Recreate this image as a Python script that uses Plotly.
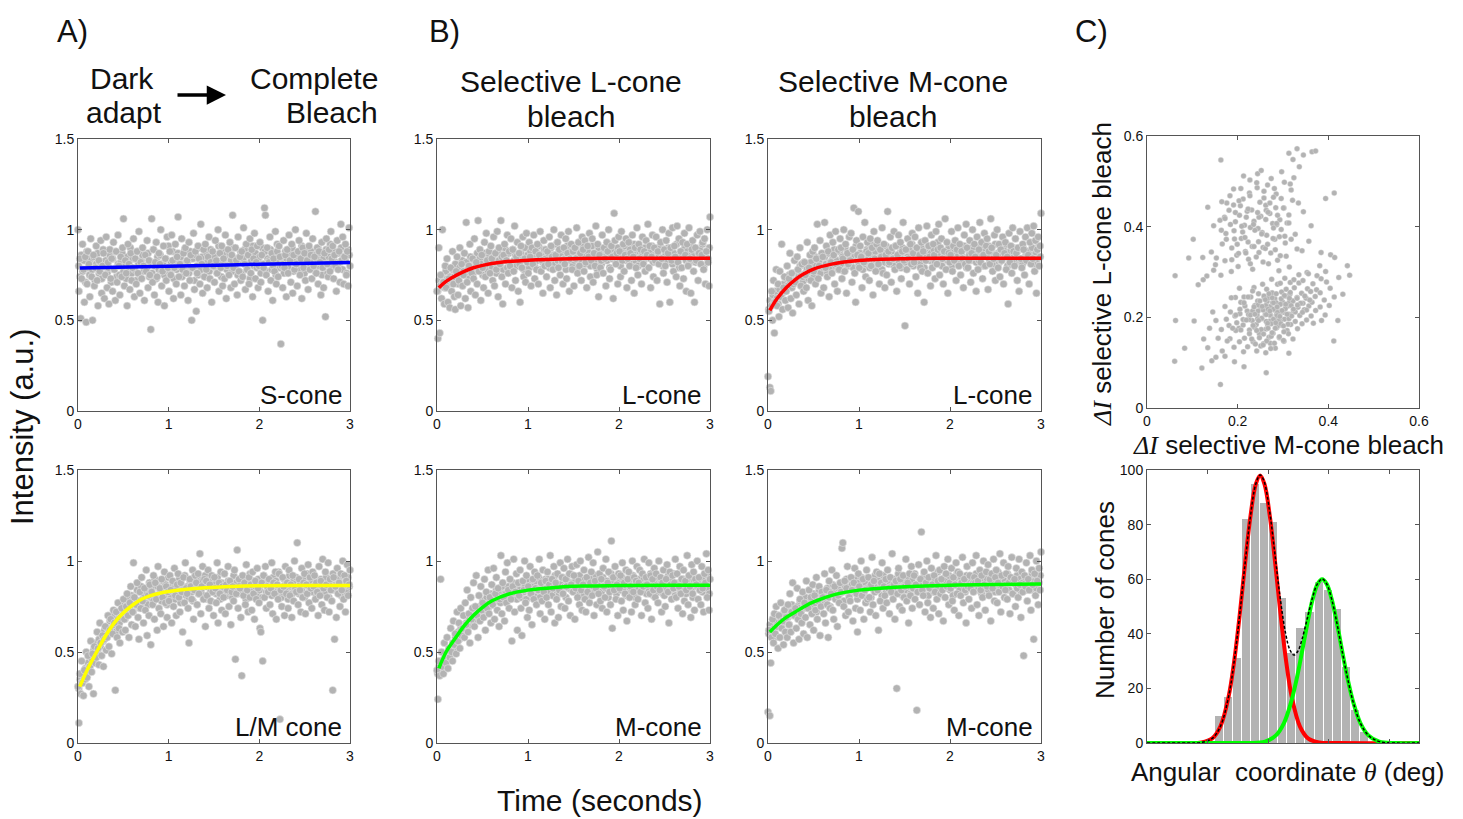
import numpy as np
import plotly.graph_objects as go

W, H = 1463, 819
FONT = "Liberation Sans"
INK = "#111111"
AXC = "#555555"
DOT = "#b3b3b3"

# ---------------- data ----------------
# acquisition times (s) of the frames in each trace (two interleaved frame sets)
frame_times = np.linspace(0, 3, 300)
frame_times_b = np.linspace(0.0075, 2.9925, 200)

# intensities (a.u., in hundredths); *_b = second frame set
s_cone_centi = [
    100, 66, 84, 51, 73, 92, 78, 60, 85, 49, 70, 88, 81, 63, 95, 74, 50, 86, 69, 79,
    91, 72, 58, 83, 77, 94, 65, 80, 87, 62, 75, 96, 68, 82, 59, 89, 73, 84, 66, 93,
    78, 61, 88, 71, 97, 80, 64, 85, 74, 90, 106, 69, 83, 76, 58, 92, 81, 67, 87, 72,
    79, 95, 63, 84, 70, 88, 76, 99, 65, 82, 73, 90, 80, 61, 86, 77, 94, 68, 83, 75,
    45, 106, 71, 89, 64, 82, 93, 74, 60, 87, 81, 100, 69, 77, 91, 58, 84, 72, 96, 79,
    66, 88, 75, 97, 83, 62, 79, 92, 70, 85, 107, 74, 81, 64, 95, 78, 87, 69, 90, 76,
    83, 61, 93, 72, 86, 50, 79, 98, 67, 88, 55, 76, 91, 84, 70, 103, 81, 65, 89, 74,
    92, 78, 68, 85, 96, 73, 82, 60, 88, 80, 71, 94, 83, 76, 100, 66, 87, 79, 91, 69,
    84, 73, 97, 62, 80, 89, 75, 93, 68, 86, 108, 79, 70, 90, 83, 64, 96, 77, 85, 72,
    88, 74, 101, 81, 67, 92, 78, 86, 70, 95, 76, 89, 63, 84, 98, 73, 82, 91, 68, 80,
    93, 71, 86, 50, 79, 112, 108, 75, 90, 66, 82, 96, 72, 87, 61, 84, 77, 99, 70, 88,
    74, 91, 85, 37, 80, 68, 94, 79, 86, 63, 89, 76, 97, 83, 71, 92, 65, 86, 78, 100,
    81, 69, 88, 94, 75, 84, 62, 90, 79, 87, 72, 98, 83, 67, 91, 78, 86, 73, 95, 80,
    85, 110, 76, 90, 70, 88, 82, 64, 93, 79, 68, 87, 52, 95, 81, 74, 89, 77, 99, 84,
    91, 73, 86, 80, 66, 94, 78, 88, 71, 103, 83, 96, 70, 85, 92, 75, 88, 69, 101, 80,
]
s_cone_centi_b = [
    80, 74, 86, 77, 83, 71, 88, 79, 75, 84, 78, 85, 72, 81, 87, 76, 82, 73, 89, 80,
    83, 76, 79, 86, 71, 84, 78, 88, 74, 81, 75, 82, 87, 77, 80, 73, 85, 79, 90, 76,
    84, 78, 72, 88, 81, 75, 83, 86, 77, 80, 79, 87, 74, 82, 76, 89, 80, 73, 85, 78,
    86, 77, 81, 75, 84, 79, 91, 76, 82, 88, 73, 83, 78, 87, 80, 85, 74, 81, 89, 77,
    82, 76, 88, 79, 84, 72, 86, 80, 75, 90, 78, 85, 81, 74, 87, 83, 77, 89, 80, 84,
    85, 79, 76, 91, 82, 74, 88, 81, 86, 78, 80, 87, 83, 77, 90, 79, 84, 75, 82, 88,
    76, 84, 89, 81, 78, 86, 73, 83, 91, 80, 87, 79, 82, 85, 76, 90, 81, 88, 77, 84,
    83, 89, 78, 80, 86, 75, 92, 82, 79, 85, 81, 76, 88, 84, 79, 87, 83, 90, 77, 82,
    86, 80, 85, 78, 91, 82, 76, 89, 84, 81, 79, 88, 83, 86, 77, 84, 90, 80, 87, 75,
    84, 81, 89, 76, 85, 92, 79, 83, 88, 82, 80, 87, 82, 90, 78, 85, 83, 76, 89, 86,
]
lm_cone_centi = [
    31, 11, 38, 27, 45, 33, 26, 40, 35, 50, 36, 48, 31, 42, 56, 39, 49, 27, 53, 44,
    47, 61, 52, 43, 66, 55, 48, 59, 42, 57, 64, 51, 58, 70, 53, 62, 68, 49, 60, 73,
    66, 29, 72, 58, 77, 63, 55, 69, 74, 61, 79, 68, 62, 75, 82, 70, 58, 77, 86, 65,
    72, 99, 80, 64, 76, 88, 69, 57, 83, 74, 91, 78, 66, 85, 73, 95, 59, 81, 70, 87,
    54, 83, 76, 92, 68, 88, 79, 62, 97, 74, 85, 71, 90, 80, 64, 94, 77, 86, 69, 83,
    78, 92, 84, 66, 89, 75, 96, 81, 70, 87, 93, 80, 72, 88, 83, 61, 91, 77, 99, 85,
    82, 74, 55, 90, 86, 79, 95, 68, 84, 92, 88, 76, 93, 82, 104, 71, 86, 97, 79, 90,
    64, 89, 81, 95, 74, 87, 78, 92, 83, 70, 91, 85, 77, 99, 66, 88, 82, 94, 73, 86,
    80, 93, 71, 87, 84, 97, 75, 89, 65, 83, 86, 78, 95, 46, 82, 106, 74, 90, 85, 69,
    37, 92, 81, 88, 76, 98, 84, 72, 91, 80, 87, 73, 94, 82, 68, 89, 79, 96, 85, 77,
    63, 61, 88, 45, 92, 80, 97, 74, 86, 83, 90, 76, 85, 99, 71, 88, 82, 94, 68, 87,
    79, 93, 13, 84, 75, 91, 86, 70, 97, 82, 88, 74, 95, 81, 87, 69, 92, 78, 100, 85,
    83, 110, 76, 90, 84, 72, 96, 80, 88, 93, 71, 87, 82, 98, 77, 91, 85, 74, 94, 86,
    92, 79, 88, 83, 70, 97, 81, 89, 76, 101, 85, 73, 94, 87, 80, 99, 72, 90, 84, 78,
    29, 91, 57, 86, 69, 96, 82, 88, 75, 93, 84, 100, 79, 92, 72, 89, 98, 81, 87, 95,
]
lm_cone_centi_b = [
    30, 35, 33, 38, 36, 41, 39, 44, 42, 47, 46, 51, 48, 55, 50, 57, 53, 60, 56, 62,
    58, 63, 60, 67, 62, 70, 65, 61, 72, 68, 66, 73, 70, 77, 68, 75, 79, 71, 74, 81,
    72, 80, 76, 84, 78, 74, 86, 79, 82, 77, 83, 76, 88, 80, 85, 78, 90, 81, 86, 79,
    84, 78, 89, 81, 87, 76, 91, 83, 80, 86, 85, 79, 88, 82, 90, 77, 86, 84, 92, 81,
    86, 80, 89, 83, 78, 91, 85, 87, 82, 90, 84, 89, 81, 92, 86, 79, 88, 83, 90, 85,
    87, 82, 91, 85, 79, 88, 84, 93, 86, 81, 89, 83, 86, 80, 92, 85, 88, 82, 90, 87,
    84, 91, 86, 79, 88, 83, 93, 85, 81, 89, 86, 82, 90, 84, 87, 80, 92, 88, 83, 85,
    88, 84, 81, 91, 86, 89, 83, 94, 85, 80, 83, 90, 87, 85, 79, 92, 86, 82, 89, 84,
    91, 85, 82, 88, 84, 90, 80, 87, 93, 86, 85, 89, 83, 92, 87, 81, 88, 84, 90, 86,
    88, 82, 91, 86, 80, 89, 85, 93, 84, 87, 84, 90, 87, 81, 92, 85, 88, 83, 91, 86,
]
lbleach_l_centi = [
    66, 40, 90, 43, 75, 62, 100, 71, 59, 80, 68, 84, 60, 73, 57, 79, 66, 88, 70, 63,
    56, 77, 85, 64, 72, 90, 58, 81, 69, 75, 87, 62, 104, 71, 57, 80, 92, 66, 76, 84,
    73, 95, 64, 82, 70, 105, 77, 89, 61, 86, 79, 68, 93, 74, 98, 83, 65, 88, 76, 91,
    84, 72, 96, 69, 87, 78, 99, 63, 90, 81, 105, 74, 59, 86, 92, 70, 83, 97, 76, 88,
    80, 95, 68, 89, 77, 102, 72, 85, 93, 66, 87, 60, 91, 79, 96, 74, 84, 71, 98, 82,
    76, 93, 85, 69, 90, 81, 97, 73, 88, 78, 92, 70, 86, 99, 77, 83, 65, 94, 80, 89,
    74, 88, 81, 96, 68, 91, 85, 78, 100, 72, 86, 64, 93, 79, 89, 75, 97, 83, 70, 90,
    81, 95, 73, 87, 99, 66, 84, 92, 78, 88, 69, 90, 84, 101, 76, 93, 80, 87, 72, 96,
    89, 77, 94, 82, 68, 91, 85, 98, 74, 83, 95, 71, 87, 80, 102, 75, 92, 63, 86, 79,
    83, 97, 76, 90, 84, 69, 93, 88, 100, 73, 78, 91, 85, 62, 109, 94, 81, 87, 70, 96,
    88, 74, 99, 83, 92, 77, 86, 95, 68, 84, 93, 80, 87, 72, 97, 85, 65, 90, 79, 101,
    75, 92, 84, 89, 70, 96, 81, 88, 77, 94, 86, 103, 79, 91, 68, 85, 97, 74, 90, 83,
    96, 72, 88, 81, 59, 93, 84, 100, 76, 89, 80, 94, 71, 87, 98, 60, 90, 83, 101, 77,
    91, 85, 74, 102, 82, 95, 69, 88, 79, 93, 73, 98, 86, 66, 92, 80, 101, 84, 65, 89,
    94, 77, 60, 90, 83, 97, 72, 87, 99, 81, 86, 93, 78, 95, 70, 88, 100, 82, 69, 107,
]
lbleach_l_centi_b = [
    66, 72, 69, 75, 71, 68, 77, 73, 70, 74, 72, 78, 74, 81, 76, 70, 79, 75, 83, 77,
    75, 82, 78, 73, 85, 79, 76, 83, 80, 87, 78, 84, 81, 75, 87, 80, 83, 77, 86, 82,
    79, 86, 82, 76, 88, 83, 80, 85, 78, 90, 84, 79, 87, 81, 77, 89, 83, 86, 80, 85,
    81, 87, 84, 78, 90, 83, 86, 79, 88, 82, 85, 80, 88, 83, 91, 78, 86, 82, 89, 84,
    82, 87, 79, 90, 84, 86, 81, 92, 83, 88, 86, 81, 89, 84, 78, 91, 85, 83, 88, 80,
    83, 90, 85, 79, 87, 82, 92, 86, 81, 89, 88, 84, 80, 91, 85, 83, 87, 78, 90, 84,
    81, 87, 85, 89, 83, 92, 79, 86, 84, 88, 86, 82, 90, 84, 80, 88, 85, 91, 83, 87,
    84, 89, 81, 86, 92, 83, 87, 80, 88, 85, 87, 83, 90, 85, 79, 88, 84, 91, 82, 86,
    82, 88, 85, 91, 84, 80, 89, 86, 83, 90, 89, 84, 81, 87, 83, 92, 85, 79, 88, 86,
    85, 90, 83, 88, 81, 86, 91, 84, 87, 82, 83, 87, 89, 85, 92, 80, 86, 88, 84, 90,
]
mbleach_l_centi = [
    19, 55, 13, 11, 66, 50, 72, 43, 60, 78, 58, 70, 52, 77, 63, 92, 56, 68, 74, 61,
    66, 80, 57, 73, 87, 62, 76, 54, 70, 83, 71, 64, 85, 78, 59, 90, 69, 81, 74, 66,
    82, 75, 68, 93, 61, 79, 86, 72, 58, 88, 77, 90, 70, 84, 103, 73, 80, 94, 65, 87,
    85, 68, 104, 79, 91, 74, 88, 63, 97, 82, 76, 93, 86, 70, 99, 81, 66, 89, 78, 95,
    90, 73, 84, 100, 77, 92, 65, 87, 81, 96, 83, 98, 71, 89, 112, 76, 60, 94, 86, 110,
    79, 91, 85, 68, 96, 82, 104, 74, 88, 93, 87, 72, 95, 80, 90, 64, 99, 84, 77, 92,
    94, 81, 70, 89, 85, 101, 76, 92, 68, 86, 75, 110, 88, 82, 96, 71, 90, 84, 99, 78,
    91, 66, 86, 97, 80, 93, 73, 88, 104, 83, 47, 89, 78, 95, 84, 70, 92, 81, 98, 87,
    82, 96, 74, 90, 65, 101, 86, 79, 93, 77, 88, 60, 94, 83, 102, 76, 91, 85, 69, 97,
    79, 92, 86, 73, 99, 81, 89, 103, 75, 90, 95, 84, 70, 88, 106, 78, 93, 65, 87, 82,
    86, 99, 77, 91, 83, 94, 72, 89, 101, 80, 92, 75, 88, 84, 68, 97, 81, 103, 90, 79,
    83, 94, 71, 87, 100, 76, 92, 85, 66, 96, 78, 89, 104, 82, 93, 73, 86, 98, 80, 91,
    95, 67, 88, 81, 106, 90, 77, 84, 97, 72, 86, 100, 79, 92, 74, 89, 83, 96, 70, 87,
    93, 78, 85, 59, 98, 82, 91, 76, 101, 88, 80, 95, 87, 72, 90, 66, 99, 84, 79, 92,
    89, 75, 96, 83, 101, 86, 70, 93, 81, 98, 84, 102, 77, 94, 65, 89, 96, 80, 91, 109,
]
mbleach_l_centi_b = [
    56, 61, 58, 64, 60, 66, 62, 59, 67, 63, 65, 70, 67, 73, 69, 75, 71, 68, 76, 72,
    72, 77, 74, 80, 75, 71, 82, 76, 79, 73, 77, 82, 79, 74, 85, 80, 78, 83, 76, 86,
    79, 85, 81, 76, 87, 82, 78, 84, 89, 80, 83, 78, 88, 81, 85, 77, 90, 84, 80, 86,
    82, 88, 79, 85, 91, 83, 80, 87, 84, 78, 86, 81, 89, 84, 79, 92, 85, 83, 88, 80,
    83, 90, 85, 78, 87, 82, 91, 86, 81, 89, 88, 84, 80, 91, 85, 83, 87, 79, 90, 84,
    82, 87, 85, 89, 83, 92, 80, 86, 84, 88, 85, 81, 90, 84, 79, 88, 86, 91, 83, 87,
    84, 89, 82, 86, 93, 83, 87, 80, 88, 85, 87, 83, 90, 85, 80, 88, 84, 92, 82, 86,
    81, 88, 85, 91, 84, 79, 89, 86, 83, 90, 89, 84, 82, 87, 83, 91, 85, 80, 88, 86,
    85, 91, 83, 88, 81, 86, 92, 84, 87, 82, 83, 87, 89, 85, 92, 80, 86, 88, 84, 90,
    86, 82, 88, 84, 90, 83, 81, 89, 85, 87, 88, 85, 83, 90, 86, 81, 87, 84, 91, 85,
]
lbleach_m_centi = [
    40, 24, 45, 37, 90, 50, 42, 38, 55, 47, 44, 58, 41, 52, 47, 63, 50, 45, 67, 54,
    60, 49, 72, 56, 66, 52, 74, 59, 63, 70, 58, 77, 65, 84, 61, 71, 55, 80, 68, 74,
    88, 64, 75, 92, 70, 58, 81, 67, 86, 73, 77, 69, 90, 62, 83, 74, 95, 71, 80, 66,
    87, 76, 96, 68, 82, 91, 73, 85, 64, 79, 103, 71, 88, 80, 67, 94, 77, 99, 84, 74,
    90, 79, 56, 86, 101, 72, 83, 93, 62, 88, 81, 95, 74, 59, 89, 84, 100, 77, 92, 69,
    86, 73, 97, 82, 65, 90, 79, 94, 85, 76, 92, 84, 101, 71, 88, 78, 95, 83, 68, 89,
    80, 94, 76, 87, 103, 72, 90, 85, 97, 66, 88, 79, 93, 69, 84, 99, 75, 91, 82, 96,
    74, 90, 86, 101, 78, 93, 70, 87, 97, 83, 92, 68, 85, 98, 80, 89, 76, 100, 84, 73,
    87, 95, 79, 72, 91, 83, 102, 77, 88, 94, 81, 99, 70, 89, 85, 76, 105, 82, 93, 78,
    90, 74, 96, 86, 80, 101, 72, 88, 94, 83, 76, 111, 63, 91, 84, 97, 79, 87, 70, 93,
    85, 92, 78, 99, 73, 88, 82, 95, 67, 90, 94, 80, 86, 72, 100, 83, 91, 76, 89, 97,
    79, 88, 95, 83, 70, 93, 86, 101, 77, 91, 87, 74, 99, 82, 92, 68, 90, 84, 96, 80,
    93, 86, 77, 100, 84, 91, 72, 88, 95, 81, 75, 90, 98, 83, 66, 94, 87, 79, 92, 85,
    88, 101, 80, 93, 74, 86, 97, 82, 90, 71, 95, 78, 89, 84, 103, 76, 92, 86, 69, 98,
    82, 94, 73, 90, 87, 100, 79, 91, 84, 76, 97, 85, 72, 93, 88, 104, 80, 95, 73, 90,
]
lbleach_m_centi_b = [
    38, 42, 40, 45, 41, 47, 43, 49, 46, 51, 50, 55, 52, 58, 54, 61, 57, 63, 59, 65,
    62, 66, 64, 69, 65, 72, 67, 70, 74, 68, 70, 75, 72, 78, 73, 76, 80, 74, 77, 82,
    76, 81, 78, 84, 79, 83, 77, 86, 80, 82, 82, 78, 86, 80, 84, 88, 81, 85, 79, 87,
    84, 80, 88, 83, 86, 79, 90, 85, 82, 87, 86, 82, 89, 84, 91, 80, 87, 85, 83, 90,
    85, 90, 83, 88, 81, 86, 92, 84, 87, 82, 87, 83, 91, 86, 80, 89, 85, 93, 84, 88,
    84, 89, 86, 82, 92, 85, 88, 81, 90, 87, 88, 85, 81, 90, 86, 83, 92, 87, 84, 89,
    83, 91, 87, 85, 89, 80, 86, 93, 84, 88, 86, 82, 90, 88, 84, 91, 85, 87, 81, 89,
    89, 85, 83, 92, 86, 80, 88, 84, 90, 87, 85, 90, 87, 82, 89, 84, 93, 86, 81, 88,
    87, 83, 91, 85, 88, 82, 86, 90, 84, 92, 84, 89, 86, 93, 81, 87, 85, 88, 83, 90,
    90, 85, 82, 88, 86, 91, 84, 80, 89, 87, 86, 88, 84, 91, 83, 87, 90, 85, 92, 82,
]
mbleach_m_centi = [
    17, 62, 15, 44, 58, 68, 55, 71, 60, 75, 64, 52, 70, 58, 77, 63, 67, 54, 73, 61,
    69, 58, 76, 65, 82, 61, 72, 88, 55, 70, 74, 63, 85, 68, 57, 79, 71, 66, 83, 60,
    77, 69, 89, 58, 74, 84, 65, 80, 71, 87, 62, 81, 73, 91, 68, 78, 86, 59, 75, 83,
    80, 71, 93, 66, 84, 76, 58, 89, 74, 82, 95, 73, 68, 86, 79, 92, 64, 81, 77, 88,
    83, 107, 110, 75, 89, 70, 85, 97, 72, 80, 78, 91, 84, 67, 88, 96, 74, 82, 61, 93,
    86, 73, 100, 81, 90, 68, 84, 77, 95, 79, 91, 80, 72, 87, 102, 76, 89, 83, 70, 94,
    84, 62, 93, 78, 88, 99, 74, 86, 81, 90, 77, 95, 85, 71, 91, 83, 104, 79, 87, 68,
    89, 30, 82, 96, 75, 90, 84, 73, 92, 80, 86, 101, 78, 88, 66, 93, 81, 97, 74, 85,
    92, 79, 87, 18, 83, 98, 76, 90, 116, 84, 81, 94, 72, 88, 100, 77, 91, 85, 69, 96,
    87, 74, 92, 83, 103, 79, 89, 71, 95, 82, 90, 84, 67, 97, 80, 93, 86, 101, 76, 88,
    85, 96, 78, 91, 73, 87, 99, 82, 94, 70, 93, 81, 88, 102, 77, 90, 84, 66, 97, 86,
    79, 92, 85, 74, 99, 83, 91, 88, 103, 76, 89, 70, 95, 84, 92, 80, 100, 87, 73, 94,
    86, 98, 81, 90, 67, 93, 85, 101, 78, 91, 95, 77, 88, 83, 104, 72, 92, 86, 99, 80,
    84, 93, 79, 97, 88, 71, 91, 102, 82, 89, 90, 75, 96, 85, 80, 101, 87, 69, 94, 83,
    48, 92, 86, 99, 78, 90, 84, 103, 73, 95, 87, 57, 93, 81, 100, 89, 76, 96, 84, 105,
]
mbleach_m_centi_b = [
    60, 65, 62, 68, 63, 58, 66, 70, 64, 67, 66, 71, 68, 74, 69, 65, 72, 76, 70, 73,
    70, 75, 72, 78, 73, 69, 76, 80, 74, 77, 74, 79, 76, 82, 77, 72, 80, 84, 78, 81,
    77, 82, 79, 85, 80, 75, 83, 87, 81, 84, 80, 85, 82, 88, 83, 78, 86, 90, 84, 81,
    82, 87, 84, 90, 85, 79, 88, 83, 91, 86, 83, 88, 85, 91, 86, 80, 89, 84, 92, 87,
    84, 89, 86, 81, 92, 87, 83, 90, 85, 88, 86, 82, 90, 87, 84, 93, 85, 89, 81, 88,
    88, 84, 91, 86, 82, 89, 85, 93, 87, 83, 85, 90, 87, 83, 92, 86, 89, 81, 88, 91,
    87, 83, 90, 85, 94, 88, 82, 89, 86, 91, 89, 85, 92, 84, 88, 81, 90, 87, 93, 86,
    84, 91, 87, 89, 83, 92, 86, 88, 85, 90, 88, 86, 93, 84, 90, 87, 82, 91, 89, 85,
    90, 84, 88, 92, 86, 89, 83, 87, 94, 85, 86, 91, 85, 89, 87, 93, 84, 90, 88, 82,
    89, 87, 92, 85, 90, 83, 88, 86, 91, 84, 87, 90, 84, 93, 86, 89, 85, 91, 88, 92,
]

# exponential-recovery fits, sampled (time s, intensity a.u.)
s_fit_t = [0.02, 1.0, 2.0, 3.0]
s_fit_y = [0.788, 0.798, 0.809, 0.819]
lm_fit_t = [0.02, 0.1, 0.2, 0.3, 0.4, 0.5, 0.6, 0.7, 0.8, 0.9, 1.0, 1.2, 1.4, 1.7, 2.0, 2.5, 3.0]
lm_fit_y = [0.31, 0.40, 0.495, 0.585, 0.66, 0.715, 0.757, 0.79, 0.81, 0.823, 0.832, 0.845, 0.853, 0.86, 0.864, 0.866, 0.866]
lbleach_l_fit_t = [0.02, 0.1, 0.2, 0.3, 0.4, 0.5, 0.7, 1.0, 1.5, 2.0, 3.0]
lbleach_l_fit_y = [0.68, 0.715, 0.745, 0.77, 0.79, 0.803, 0.82, 0.832, 0.84, 0.842, 0.843]
mbleach_l_fit_t = [0.02, 0.1, 0.2, 0.3, 0.4, 0.5, 0.7, 1.0, 1.5, 2.0, 3.0]
mbleach_l_fit_y = [0.555, 0.62, 0.68, 0.725, 0.758, 0.783, 0.81, 0.83, 0.84, 0.842, 0.842]
lbleach_m_fit_t = [0.02, 0.1, 0.2, 0.3, 0.4, 0.5, 0.6, 0.8, 1.0, 1.3, 1.6, 2.0, 3.0]
lbleach_m_fit_y = [0.41, 0.50, 0.575, 0.645, 0.70, 0.745, 0.78, 0.82, 0.84, 0.855, 0.862, 0.866, 0.867]
mbleach_m_fit_t = [0.02, 0.1, 0.2, 0.3, 0.4, 0.5, 0.75, 1.0, 1.4, 2.0, 2.5, 3.0]
mbleach_m_fit_y = [0.61, 0.65, 0.69, 0.72, 0.75, 0.775, 0.818, 0.84, 0.856, 0.867, 0.871, 0.873]

# panel C top: Delta I (x1000) for selective M-cone bleach (x) and L-cone bleach (y)
c_dm_milli = [
    134, 147, 161, 176, 183, 195, 204, 212, 226, 231, 243, 258, 262, 271, 285, 293, 302, 316, 321, 334,
    142, 153, 166, 174, 187, 192, 208, 215, 223, 236, 245, 251, 264, 277, 282, 296, 305, 313, 327, 331,
    147, 151, 163, 172, 186, 198, 201, 217, 224, 233, 241, 256, 268, 273, 288, 291, 307, 314, 342, 353,
    213, 227, 244, 252, 266, 274, 281, 297, 303, 318, 206, 221, 238, 247, 263, 279, 284, 292, 254, 232,
    184, 171, 193, 216, 228, 202, 246, 261, 286, 309, 324, 336, 345, 357, 362, 123, 132, 165, 191, 278,
    172, 181, 194, 203, 207, 212, 215, 221, 226, 229, 232, 234, 238, 241, 243, 246, 248, 251, 253, 257,
    259, 261, 263, 265, 267, 269, 271, 272, 274, 276, 278, 281, 282, 284, 286, 288, 291, 293, 295, 297,
    299, 301, 303, 305, 307, 309, 311, 313, 315, 317, 321, 323, 325, 327, 331, 333, 335, 337, 341, 344,
    347, 351, 354, 357, 361, 364, 371, 374, 382, 391, 183, 192, 204, 213, 222, 242, 251, 262, 272, 283,
    292, 302, 312, 322, 332, 342, 352, 362, 372, 382, 164, 175, 184, 195, 204, 216, 224, 236, 244, 255,
    264, 275, 285, 294, 304, 316, 324, 335, 344, 356, 366, 375, 384, 396, 404, 413, 402, 393, 385, 367,
    266, 273, 287, 296, 256, 245, 237, 225, 268, 277, 286, 294, 306, 314, 252, 244, 233, 263, 279, 288,
    214, 205, 196, 186, 177, 166, 157, 152, 145, 138,
    62, 63, 61, 83, 92, 163, 364, 372, 345, 313, 413, 394, 442, 447, 432, 421, 412, 162, 263, 214,
    121, 104, 102, 134, 125, 143, 152, 331, 322, 384, 405, 414, 394, 381, 113, 124, 193, 172, 313, 423,
    245, 253, 262, 271, 279, 288, 296, 305, 313, 322, 234, 242, 257, 266, 274, 283, 291, 302, 311, 319,
    228, 236, 249, 258, 267, 276, 285, 294, 303, 316, 331, 339, 348, 352, 359, 327, 318, 309, 298, 287,
    226, 231, 239, 248, 256, 264, 273, 281, 292, 301, 212, 219, 207, 198, 189, 196, 205, 214, 223, 233,
    263, 271, 279, 287, 295, 306, 314, 323, 332, 343, 254, 246, 238, 267, 276, 284, 293, 301, 261, 269,
    164, 172, 181, 195, 203, 211, 219, 227, 235, 244, 253, 262, 271, 279, 288, 296, 304, 313, 236, 218,
    199, 187, 228, 247, 256, 266, 283, 294, 207, 242, 258, 223, 209, 191, 175, 249, 267, 286, 301, 318,
]
c_dl_milli = [
    443, 402, 414, 452, 468, 431, 425, 461, 474, 437, 486, 463, 447, 429, 472, 415, 441, 494, 458, 452,
    344, 331, 362, 385, 353, 391, 374, 403, 366, 412, 396, 423, 381, 407, 372, 394, 364, 426, 383, 351,
    304, 316, 293, 325, 301, 337, 312, 345, 328, 306, 333, 354, 318, 342, 326, 303, 335, 311, 347, 299,
    512, 503, 517, 524, 492, 506, 484, 521, 498, 481, 446, 434, 392, 421, 436, 465, 442, 378, 387, 356,
    405, 421, 373, 376, 398, 341, 367, 352, 404, 408, 508, 532, 433, 368, 402, 332, 291, 455, 483, 374,
    224, 182, 203, 176, 233, 195, 154, 214, 172, 245, 193, 146, 226, 184, 205, 252, 163, 221, 197, 142,
    243, 206, 174, 235, 213, 156, 192, 224, 186, 254, 165, 216, 241, 194, 177, 273, 202, 228, 183, 256,
    234, 211, 196, 247, 262, 171, 225, 207, 251, 184, 236, 214, 265, 191, 244, 222, 276, 204, 253, 231,
    217, 242, 263, 225, 257, 233, 246, 261, 254, 238, 153, 134, 146, 124, 135, 126, 137, 122, 143, 132,
    155, 147, 164, 152, 175, 186, 194, 203, 215, 223, 173, 196, 212, 244, 264, 225, 206, 266, 236, 273,
    262, 284, 232, 275, 286, 277, 283, 294, 281, 296, 274, 292, 285, 278, 264, 245, 226, 205, 193, 187,
    184, 204, 223, 213, 216, 227, 178, 195, 243, 232, 206, 192, 227, 234, 173, 197, 214, 191, 218, 181,
    245, 208, 171, 243, 148, 126, 154, 193, 212, 176,
    292, 193, 103, 132, 331, 547, 565, 567, 558, 562, 474, 462, 314, 293, 251, 193, 148, 52, 78, 91,
    88, 192, 372, 133, 152, 104, 112, 572, 548, 343, 338, 332, 301, 314, 272, 283, 102, 114, 121, 288,
    214, 198, 226, 205, 232, 211, 241, 219, 197, 236, 182, 171, 163, 187, 158, 176, 192, 168, 185, 203,
    205, 223, 236, 247, 218, 243, 252, 229, 248, 255, 242, 231, 247, 216, 238, 212, 226, 207, 215, 223,
    164, 152, 141, 155, 139, 148, 131, 143, 157, 149, 183, 194, 172, 188, 176, 205, 218, 232, 245, 258,
    206, 214, 196, 204, 186, 229, 242, 218, 227, 211, 224, 193, 207, 176, 166, 188, 202, 181, 239, 252,
    392, 418, 436, 411, 457, 388, 421, 468, 405, 431, 384, 416, 452, 397, 425, 462, 379, 408, 356, 342,
    361, 327, 318, 343, 322, 361, 349, 336, 484, 497, 478, 439, 401, 448, 372, 454, 432, 407, 441, 372,
]

# panel C bottom: histogram of angular coordinate (arbitrary 0-100 scale) and Gaussian fits
hist_bin_centers = [26.54, 29.86, 33.18, 36.50, 39.82, 43.14, 46.46, 49.78, 53.10,
                    56.42, 59.74, 63.06, 66.38, 69.70, 73.02, 76.34, 79.66]
hist_counts = [10, 17, 31, 82, 95, 88, 81, 53, 33, 42, 48, 59, 56, 49, 28, 12, 4]
red_fit_x = [0, 14, 20, 24, 27, 30, 32, 34, 36, 38, 40, 41.6, 43.2, 45.2, 47.2, 49.2,
             51.2, 53.2, 56.2, 59.2, 63.2, 70, 100]
red_fit_y = [0, 0, 0.2, 1.7, 6.1, 17.0, 29.6, 46.2, 65.2, 82.8, 94.8, 98, 94.8, 82.8,
             65.2, 46.2, 29.6, 17.0, 6.1, 1.7, 0.2, 0, 0]
green_fit_x = [0, 30, 37.4, 43.4, 47.4, 50.4, 52.9, 54.9, 56.9, 58.9, 60.9, 62.7, 64.4,
               66.1, 67.9, 69.9, 71.9, 73.9, 75.9, 78.4, 81.4, 85.4, 91.4, 100]
green_fit_y = [0, 0, 0, 0.5, 2.8, 7.4, 14.7, 22.9, 32.9, 43.5, 52.7, 58.2, 60,
               58.2, 52.7, 43.5, 32.9, 22.9, 14.7, 7.4, 2.8, 0.5, 0, 0]
sum_fit_x = [0, 15, 20, 24, 27, 30, 32, 34, 36, 38, 40, 41.6, 43, 45, 47, 49, 51, 52.5,
             54, 55.5, 57, 59, 61, 62.5, 64.4, 66, 68, 70, 72, 74, 76, 78.5, 81.5, 85.5, 91, 100]
sum_fit_y = [0, 0, 0.2, 1.7, 6.1, 17.0, 29.6, 46.2, 65.2, 82.8, 94.9, 98.2, 96.0, 85.4,
             69.4, 52.9, 39.9, 34.2, 32.2, 33.7, 38.0, 45.9, 53.7, 58.0, 60.1, 58.4, 52.3,
             43.0, 32.4, 22.5, 14.3, 7.2, 2.7, 0.5, 0, 0]

# ---------------- layout helpers ----------------
def fx(px):
    return px / W


def fy(py):
    return 1 - py / H


fig = go.Figure()

axis_common = dict(
    showline=True, mirror="ticks", linecolor=AXC, linewidth=1,
    ticks="inside", ticklen=4, tickcolor=AXC, tickwidth=1,
    showgrid=False, zeroline=False, automargin=False,
    tickfont=dict(family=FONT, size=14, color=INK),
)

panels = [
    # (axis id, x px range, y px range, values, values set b, fit t, fit y, fit colour, label)
    ("", (78, 350), (139, 411), s_cone_centi, s_cone_centi_b, s_fit_t, s_fit_y, "#0000ff", "S-cone"),
    ("2", (437, 710), (139, 411), lbleach_l_centi, lbleach_l_centi_b, lbleach_l_fit_t, lbleach_l_fit_y, "#ff0000", "L-cone"),
    ("3", (768, 1041), (139, 411), mbleach_l_centi, mbleach_l_centi_b, mbleach_l_fit_t, mbleach_l_fit_y, "#ff0000", "L-cone"),
    ("4", (78, 350), (470, 743), lm_cone_centi, lm_cone_centi_b, lm_fit_t, lm_fit_y, "#ffff00", "L/M cone"),
    ("5", (437, 710), (470, 743), lbleach_m_centi, lbleach_m_centi_b, lbleach_m_fit_t, lbleach_m_fit_y, "#00ff00", "M-cone"),
    ("6", (768, 1041), (470, 743), mbleach_m_centi, mbleach_m_centi_b, mbleach_m_fit_t, mbleach_m_fit_y, "#00ff00", "M-cone"),
]

annotations = []
dot_marker = dict(size=7.5, color=DOT, line=dict(width=0.6, color="rgba(232,232,232,0.9)"))
for aid, (x0, x1), (y0, y1), vals, vals_b, ft, fyv, col, label in panels:
    xa, ya = "x" + aid, "y" + aid
    fig.add_trace(go.Scatter(
        x=frame_times_b, y=np.array(vals_b) / 100.0, mode="markers", marker=dot_marker,
        xaxis=xa, yaxis=ya, hoverinfo="skip", cliponaxis=False,
    ))
    fig.add_trace(go.Scatter(
        x=frame_times, y=np.array(vals) / 100.0, mode="markers", marker=dot_marker,
        xaxis=xa, yaxis=ya, hoverinfo="skip", cliponaxis=False,
    ))
    fig.add_trace(go.Scatter(
        x=ft, y=fyv, mode="lines", line=dict(color=col, width=3.5, shape="spline"),
        xaxis=xa, yaxis=ya, hoverinfo="skip",
    ))
    fig.layout["xaxis" + aid] = dict(
        domain=[fx(x0), fx(x1)], range=[0, 3], tickvals=[0, 1, 2, 3],
        anchor=ya, **axis_common)
    fig.layout["yaxis" + aid] = dict(
        domain=[fy(y1), fy(y0)], range=[0, 1.5], tickvals=[0, 0.5, 1, 1.5],
        ticktext=["0", "0.5", "1", "1.5"], anchor=xa, **axis_common)
    annotations.append(dict(
        text=label, x=fx(x1 - 7), y=fy(y1 - 16), xref="paper", yref="paper",
        xanchor="right", yanchor="middle", showarrow=False, borderpad=0,
        font=dict(family=FONT, size=26, color=INK)))

# C top scatter
fig.add_trace(go.Scatter(
    x=np.array(c_dm_milli) / 1000.0, y=np.array(c_dl_milli) / 1000.0, mode="markers",
    marker=dict(size=5.5, color=DOT, line=dict(width=0.4, color="rgba(232,232,232,0.9)")),
    xaxis="x7", yaxis="y7", hoverinfo="skip",
))
fig.layout["xaxis7"] = dict(domain=[fx(1147), fx(1419)], range=[0, 0.6],
                            tickvals=[0, 0.2, 0.4, 0.6], ticktext=["0", "0.2", "0.4", "0.6"],
                            anchor="y7", **axis_common)
fig.layout["yaxis7"] = dict(domain=[fy(408), fy(136)], range=[0, 0.6],
                            tickvals=[0, 0.2, 0.4, 0.6], ticktext=["0", "0.2", "0.4", "0.6"],
                            anchor="x7", **axis_common)

# C bottom histogram
fig.add_trace(go.Bar(
    x=hist_bin_centers, y=hist_counts, width=2.95,
    marker=dict(color="#b3b3b3", line=dict(width=0)),
    xaxis="x8", yaxis="y8", hoverinfo="skip",
))
fig.add_trace(go.Scatter(x=red_fit_x, y=red_fit_y, mode="lines",
                         line=dict(color="#ff0000", width=4, shape="spline"),
                         xaxis="x8", yaxis="y8", hoverinfo="skip", cliponaxis=False))
fig.add_trace(go.Scatter(x=green_fit_x, y=green_fit_y, mode="lines",
                         line=dict(color="#00ff00", width=4, shape="spline"),
                         xaxis="x8", yaxis="y8", hoverinfo="skip", cliponaxis=False))
fig.add_trace(go.Scatter(x=sum_fit_x, y=sum_fit_y, mode="lines",
                         line=dict(color="#000000", width=1.5, dash="3px,2px", shape="spline"),
                         xaxis="x8", yaxis="y8", hoverinfo="skip", cliponaxis=False))
fig.layout["xaxis8"] = dict(domain=[fx(1147), fx(1419)], range=[0, 100],
                            tickvals=[22.2, 44.5, 66.8, 89.1], showticklabels=False,
                            anchor="y8", **axis_common)
fig.layout["yaxis8"] = dict(domain=[fy(743), fy(470)], range=[0, 100],
                            tickvals=[0, 20, 40, 60, 80, 100], anchor="x8", **axis_common)


def txt(text, px, py, size, xanchor="center", angle=0, yanchor="middle"):
    annotations.append(dict(
        text=text, x=fx(px), y=fy(py), xref="paper", yref="paper",
        xanchor=xanchor, yanchor=yanchor, showarrow=False, textangle=angle,
        borderpad=0, font=dict(family=FONT, size=size, color=INK)))


txt("A)", 72, 32, 31)
txt("B)", 444, 32, 31)
txt("C)", 1091, 32, 31)
txt("Dark", 122, 78, 30)
txt("adapt", 124, 112.5, 30)
txt("Complete", 379, 78, 30, xanchor="right")
txt("Bleach", 379, 112.5, 30, xanchor="right")
txt("Selective L-cone", 571, 82, 30)
txt("bleach", 571, 117, 30)
txt("Selective M-cone", 893, 82, 30)
txt("bleach", 893, 117, 30)
txt("Intensity (a.u.)", 22, 427, 31, angle=-90)
txt("Time (seconds)", 600, 800, 30)

SERIF = '<span style="font-family:Liberation Serif"><i>%s</i></span>'
txt(SERIF % "ΔI" + " selective L-cone bleach", 1102, 274, 26, angle=-90)
txt(SERIF % "ΔI" + " selective M-cone bleach", 1288, 445, 26)
txt("Number of cones", 1105, 600, 26, angle=-90)
txt("Angular  coordinate " + SERIF % "θ" + " (deg)", 1287, 772, 26)

# arrow Dark adapt -> Complete Bleach
annotations.append(dict(
    x=fx(226), y=fy(95), xref="paper", yref="paper", ax=-50, ay=0,
    axref="pixel", ayref="pixel", text="", showarrow=True,
    arrowhead=2, arrowsize=1.1, arrowwidth=3.5, arrowcolor="#000000"))

fig.update_layout(
    width=W, height=H, margin=dict(l=0, r=0, t=0, b=0, autoexpand=False),
    paper_bgcolor="white", plot_bgcolor="white", showlegend=False,
    annotations=annotations, font=dict(family=FONT, color=INK),
    bargap=0,
)

# the page's default 8px body margin would shift the 1463x819 figure inside the window
fig.write_html("out.html", include_plotlyjs=True, config={"displayModeBar": False},
               post_script="document.body.style.margin='0';document.body.style.overflow='hidden';")
